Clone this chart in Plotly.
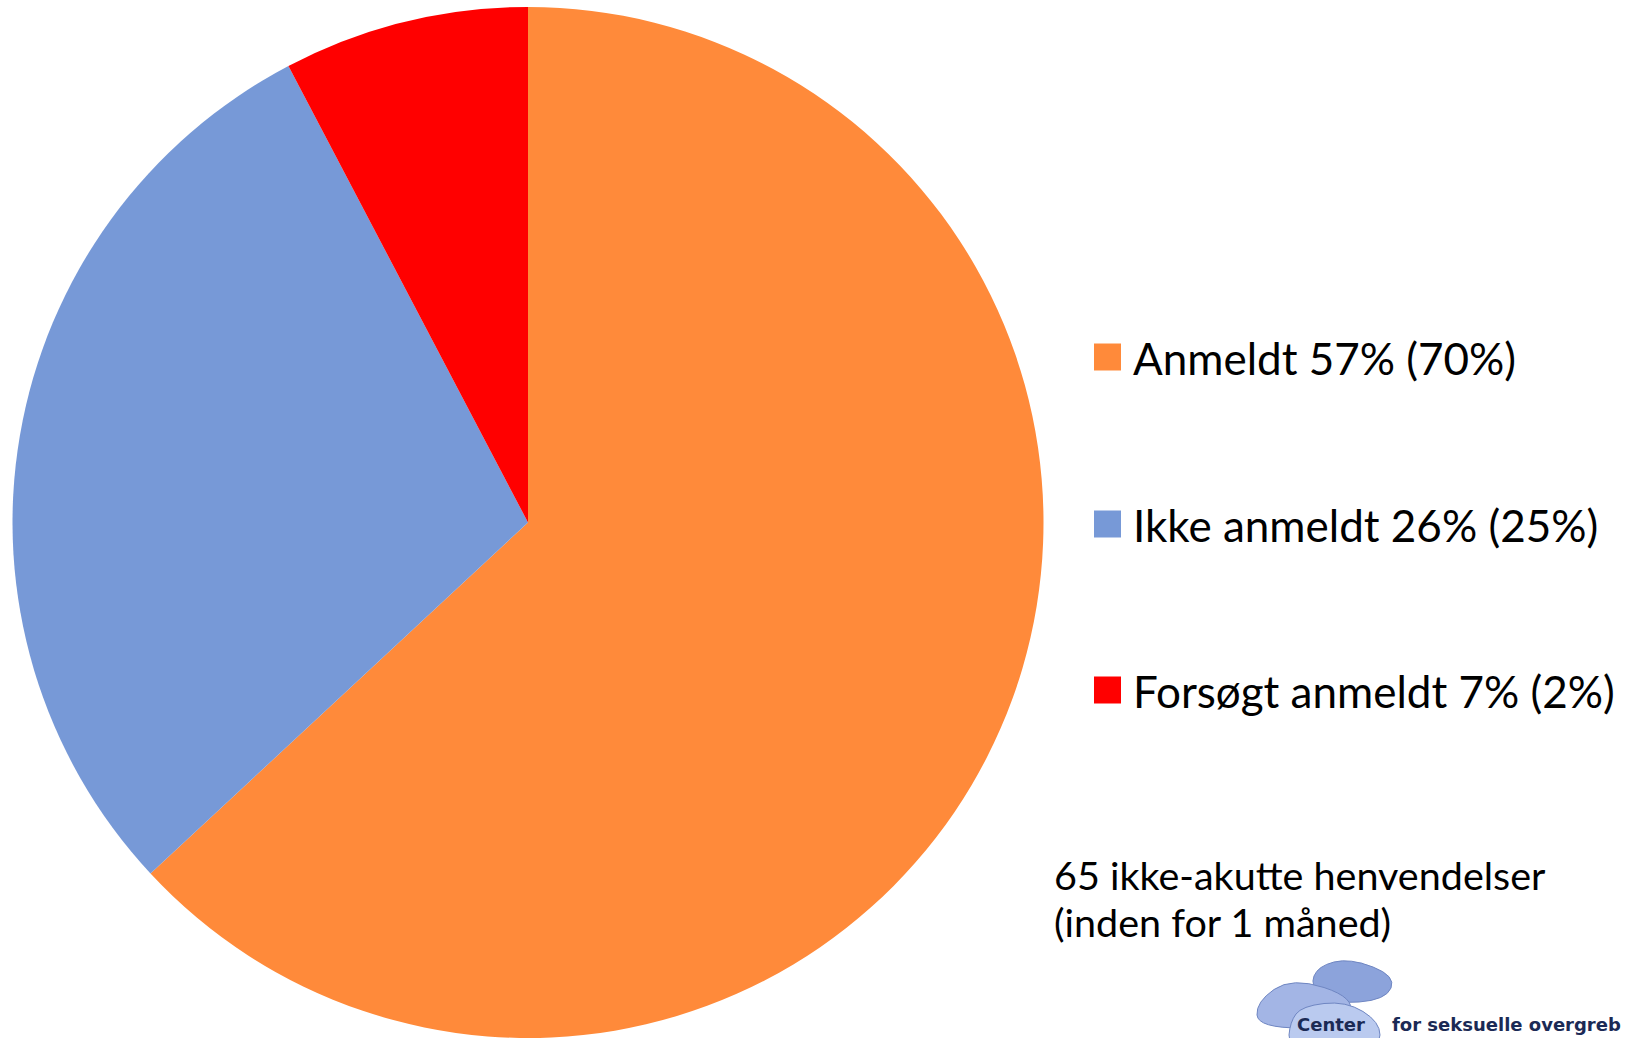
import plotly.graph_objects as go

W, H = 1633, 1038

labels = ["Anmeldt", "Ikke anmeldt", "Forsøgt anmeldt"]
values = [41, 19, 5]
legend_texts = ["Anmeldt 57% (70%)", "Ikke anmeldt 26% (25%)", "Forsøgt anmeldt 7% (2%)"]
colors = ["#FF8A3A", "#7799D7", "#FF0000"]
note_lines = ["65 ikke-akutte henvendelser", "(inden for 1 måned)"]
logo_text = ["Center", "for seksuelle overgreb"]


def px(x):
    return x / W


def py(y):
    return 1 - y / H


fig = go.Figure()
fig.add_trace(go.Pie(
    labels=labels,
    values=values,
    marker=dict(colors=colors, line=dict(width=0)),
    sort=False,
    direction="clockwise",
    rotation=0,
    textinfo="none",
    hoverinfo="label+value",
    showlegend=False,
    domain=dict(x=[px(11), px(1045)], y=[0, py(7)]),
))

shapes = []
annotations = []

# legend (manual, spaced like the reference)
row_centers = [357, 524, 690]
for c, t, yc in zip(colors, legend_texts, row_centers):
    shapes.append(dict(type="rect", xref="paper", yref="paper",
                       x0=px(1094), x1=px(1121), y0=py(yc + 13.5), y1=py(yc - 13.5),
                       fillcolor=c, line=dict(width=0)))
    annotations.append(dict(xref="paper", yref="paper", x=px(1131), y=py(yc + 1),
                            xanchor="left", yanchor="middle", showarrow=False,
                            text=t, font=dict(family="Lato", size=44, color="#000000")))

# note (two lines, tighter spacing like the reference)
for line, yc in zip(note_lines, [874, 921]):
    annotations.append(dict(xref="paper", yref="paper", x=px(1052), y=py(yc),
                            xanchor="left", yanchor="middle", showarrow=False, align="left",
                            text=line,
                            font=dict(family="Lato", size=39.5, color="#000000")))


# logo blobs
def blob(points):
    n = len(points)
    mids = [((points[i][0] + points[(i + 1) % n][0]) / 2, (points[i][1] + points[(i + 1) % n][1]) / 2) for i in range(n)]
    d = f"M {px(mids[0][0])},{py(mids[0][1])}"
    for i in range(1, n + 1):
        cp = points[i % n]
        m = mids[i % n]
        d += f" Q {px(cp[0])},{py(cp[1])} {px(m[0])},{py(m[1])}"
    return d + " Z"


blobs = [
    ([(1318, 966), (1350, 958), (1396, 976), (1386, 1000), (1332, 1004), (1310, 986)], "#8CA3DB"),
    ([(1292, 977), (1356, 998), (1344, 1028), (1258, 1028), (1256, 1002)], "#A3B5E5"),
    ([(1302, 1006), (1346, 1001), (1380, 1022), (1380, 1048), (1288, 1048), (1290, 1022)], "#BACAEF"),
]
for pts, fc in blobs:
    shapes.append(dict(type="path", xref="paper", yref="paper", path=blob(pts),
                       fillcolor=fc, line=dict(color="#6F86C2", width=1)))

annotations.append(dict(xref="paper", yref="paper", x=px(1295), y=py(1024),
                        xanchor="left", yanchor="middle", showarrow=False,
                        text=f"<b>{logo_text[0]}</b>",
                        font=dict(family="DejaVu Sans", size=18, color="#1B2A55")))
annotations.append(dict(xref="paper", yref="paper", x=px(1390), y=py(1024),
                        xanchor="left", yanchor="middle", showarrow=False,
                        text=f"<b>{logo_text[1]}</b>",
                        font=dict(family="DejaVu Sans", size=18, color="#1B2A55")))

fig.update_layout(
    width=W, height=H,
    margin=dict(l=0, r=0, t=0, b=0),
    paper_bgcolor="#FFFFFF",
    plot_bgcolor="#FFFFFF",
    shapes=shapes,
    annotations=annotations,
)

fig.write_html("out.html", config={"displayModeBar": False},
               post_script="document.body.style.margin='0';document.body.style.overflow='hidden';")
